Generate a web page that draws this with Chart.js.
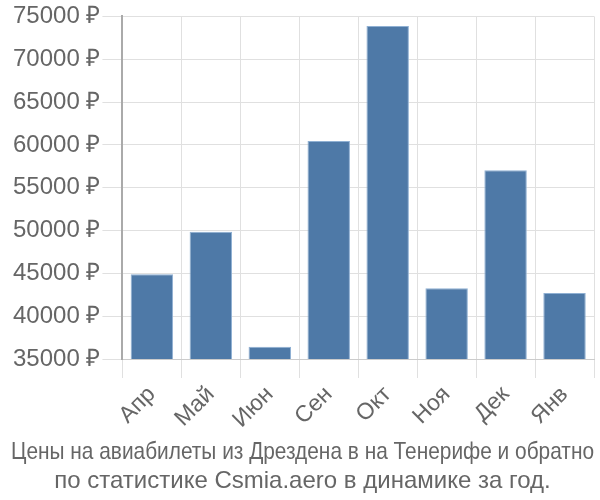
<!DOCTYPE html>
<html>
<head>
<meta charset="utf-8">
<script src="https://cdn.jsdelivr.net/npm/chart.js@4.4.0/dist/chart.umd.min.js"></script>
<style>
  html, body { margin: 0; padding: 0; background: #fff; }
  #wrap { width: 600px; height: 500px; }
</style>
</head>
<body>
<div id="wrap"><canvas id="priceChart"></canvas></div>
<script>
document.addEventListener('DOMContentLoaded', () => {

    // --- Chart data ---
    const months = ['Апр', 'Май', 'Июн', 'Сен', 'Окт', 'Ноя', 'Дек', 'Янв'];
    const prices = [44900, 49850, 36430, 60450, 73870, 43260, 57030, 42700];
    const titleLines = [
        'Цены на авиабилеты из Дрездена в на Тенерифе и обратно',
        'по статистике Csmia.aero в динамике за год.'
    ];

    const ctx = document.getElementById('priceChart').getContext('2d');
    new Chart(ctx, {
        type: 'bar',
        data: {
            labels: months,
            datasets: [{
                data: prices,
                backgroundColor: '#4e79a7',
                borderColor: '#8fb0d3',
                borderWidth: 1,
                categoryPercentage: 0.8,
                barPercentage: 0.9
            }]
        },
        options: {
            responsive: true,
            maintainAspectRatio: false,
            animation: false,
            layout: { padding: { left: 11, right: 6, top: 1, bottom: 0 } },
            plugins: {
                legend: { display: false },
                tooltip: { enabled: false },
                title: {
                    display: true,
                    position: 'bottom',
                    text: titleLines,
                    color: '#666',
                    font: { family: '"Liberation Sans", Arial', size: 24, weight: 'normal' },
                    padding: { top: 2, bottom: 4 },
                    lineHeight: 1.3
                }
            },
            scales: {
                x: {
                    grid: { color: '#e0e0e0', lineWidth: 1, tickLength: 19, offset: true },
                    border: { color: '#ccc' },
                    ticks: {
                        color: '#666',
                        font: { family: '"Liberation Sans", Arial', size: 23 },
                        maxRotation: 45,
                        minRotation: 45
                    }
                },
                y: {
                    min: 35000,
                    max: 75000,
                    grid: { color: '#e0e0e0', lineWidth: 1, tickLength: 20 },
                    border: { color: '#aaa', width: 2 },
                    ticks: {
                        stepSize: 5000,
                        color: '#666',
                        padding: 2,
                        font: { family: '"Liberation Sans", Arial', size: 24 },
                        callback: v => v + ' ₽'
                    }
                }
            }
        }
    });

});
</script>
</body>
</html>
